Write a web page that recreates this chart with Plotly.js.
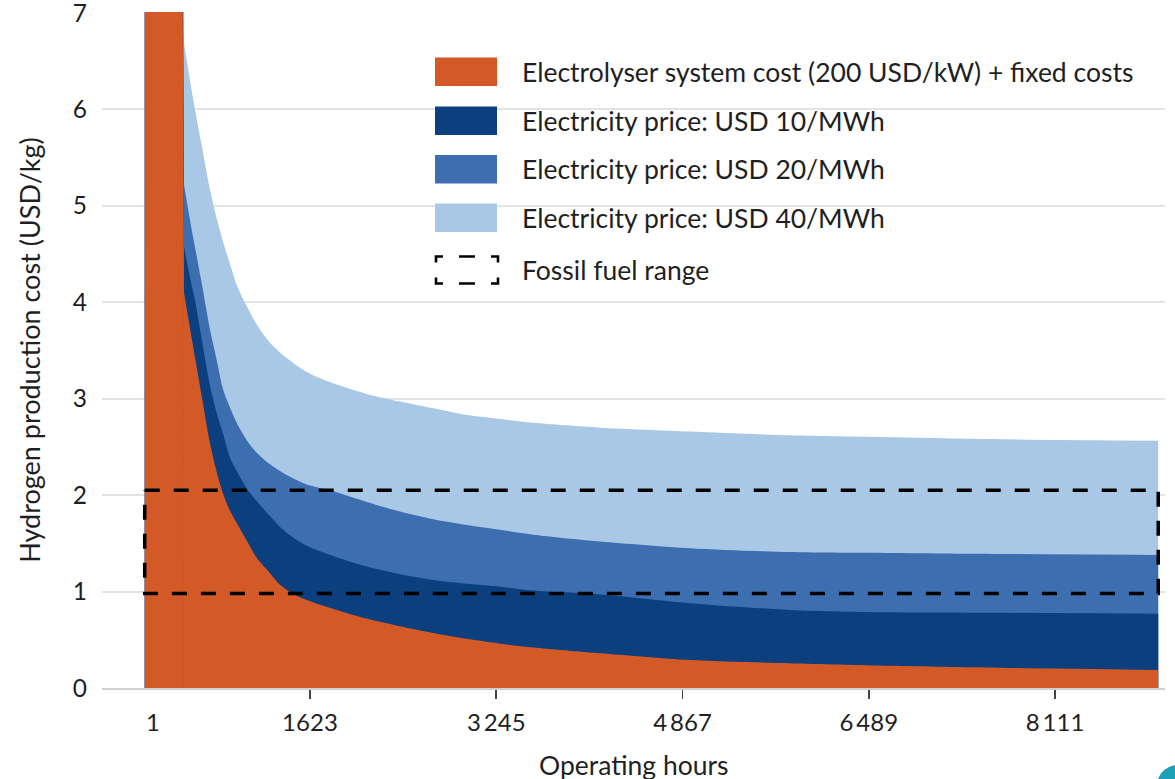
<!DOCTYPE html>
<html>
<head>
<meta charset="utf-8">
<script src="https://cdn.plot.ly/plotly-3.0.1.min.js"></script>
<style>
html,body{margin:0;padding:0;background:#ffffff;}
#chart{width:1175px;height:779px;}
</style>
</head>
<body>
<div id="chart"></div>
<script>
// ---- data ----
// x positions of the plotted points, in operating-hour units of the axis
const hours = [184, 526, 578, 622, 680, 752, 811, 868, 926, 985, 1072, 1159, 1275, 1362, 1449, 1536, 1623, 1826, 2117, 2407, 2697, 2988, 3278, 3568, 4149, 4932, 5803, 6674, 7632, 9010];
// electrolyser system cost (200 USD/kW) + fixed costs, USD/kg (first point is off the scale)
const electrolyserCost = [100, 4.10, 3.73, 3.43, 3.03, 2.54, 2.24, 2.01, 1.84, 1.71, 1.53, 1.35, 1.19, 1.07, 0.995, 0.94, 0.90, 0.82, 0.72, 0.64, 0.57, 0.51, 0.46, 0.42, 0.36, 0.29, 0.256, 0.23, 0.21, 0.187];
// total production cost with electricity at USD 10/MWh
const total10 = [100.6, 4.58, 4.26, 4.02, 3.62, 3.14, 2.85, 2.63, 2.39, 2.25, 2.07, 1.94, 1.78, 1.67, 1.585, 1.515, 1.46, 1.37, 1.26, 1.18, 1.12, 1.08, 1.05, 1.01, 0.97, 0.88, 0.81, 0.785, 0.78, 0.77];
// total production cost with electricity at USD 20/MWh
const total20 = [101.2, 5.22, 4.85, 4.57, 4.20, 3.72, 3.40, 3.09, 2.91, 2.75, 2.57, 2.44, 2.32, 2.25, 2.19, 2.14, 2.10, 2.04, 1.93, 1.83, 1.75, 1.69, 1.64, 1.59, 1.52, 1.45, 1.41, 1.40, 1.39, 1.38];
// total production cost with electricity at USD 40/MWh
const total40 = [102.4, 6.69, 6.30, 6.00, 5.63, 5.17, 4.87, 4.62, 4.40, 4.18, 3.96, 3.77, 3.58, 3.48, 3.395, 3.32, 3.26, 3.16, 3.05, 2.97, 2.90, 2.83, 2.79, 2.75, 2.70, 2.66, 2.62, 2.60, 2.58, 2.565];
// fossil fuel range, USD/kg
const fossilRange = [0.98, 2.05];

const seriesNames = [
  "Electrolyser system cost (200 USD/kW) + fixed costs",
  "Electricity price: USD 10/MWh",
  "Electricity price: USD 20/MWh",
  "Electricity price: USD 40/MWh",
  "Fossil fuel range"
];
const seriesColors = ["#D35A26", "#0B3F7E", "#3C6EB0", "#A8C8E6", "#000000"];

const xTickVals = [256, 1623, 3245, 4867, 6489, 8111];
const xTickText = ["1", "1623", "3\u2009245", "4\u2009867", "6\u2009489", "8\u2009111"];
const xTickMarks = [1623, 3245, 4867, 6489, 8111];
const yTickVals = [0, 1, 2, 3, 4, 5, 6, 7];

// ---- layout helpers (page pixels -> paper fractions) ----
const PL = 102, PR = 1165, PT = 12, PB = 688;
const fx = v => (v - PL) / (PR - PL);
const fy = v => (PB - v) / (PB - PT);
const FONT = "Lato, 'Open Sans', sans-serif";
const TXT = "#1f1f1f";

// each area: the off-scale first step is drawn straight, the rest smoothed
function area(y, idx) {
  const common = {
    type: "scatter", mode: "lines", fill: "tozeroy", fillcolor: seriesColors[idx],
    name: seriesNames[idx], hoverinfo: "skip", showlegend: false
  };
  return [
    Object.assign({x: hours.slice(0, 2), y: y.slice(0, 2),
      line: {width: 0, color: seriesColors[idx], shape: "linear"}}, common),
    Object.assign({x: hours.slice(1), y: y.slice(1),
      line: {width: 0, color: seriesColors[idx], shape: "spline", smoothing: 0.8}}, common)
  ];
}
const n = hours.length;
const traces = [].concat(
  area(total40, 3),
  area(total20, 2),
  area(total10, 1),
  area(electrolyserCost, 0),
  [{
    x: [hours[0], hours[n-1], hours[n-1], hours[0], hours[0]],
    y: [fossilRange[1], fossilRange[1], fossilRange[0], fossilRange[0], fossilRange[1]],
    type: "scatter", mode: "lines", name: seriesNames[4],
    line: {color: "#000", width: 3.5, dash: "15px,14px"},
    hoverinfo: "skip", showlegend: false
  }]
);

// ---- manual legend ----
const shapes = [];
const annotations = [];
const rowY = [71.7, 120.7, 169.3, 217.8, 270];
const legendOrder = [0, 1, 2, 3];
legendOrder.forEach((si, r) => {
  shapes.push({type: "rect", xref: "paper", yref: "paper",
    x0: fx(435), x1: fx(497), y0: fy(rowY[r] - 14.3), y1: fy(rowY[r] + 14.3),
    fillcolor: seriesColors[si], line: {width: 0}});
});
for (let r = 0; r < 5; r++) {
  annotations.push({xref: "paper", yref: "paper", x: fx(520), y: fy(rowY[r]),
    xanchor: "left", yanchor: "middle", showarrow: false,
    text: seriesNames[r], font: {family: FONT, size: 26.5, color: TXT}});
}
// dashed rectangle icon
(function(){
  const x0 = 436, x1 = 498, y0 = 256.5, y1 = 283.5, ca = 7, cv = 6;
  const P = (x, y) => fx(x).toFixed(5) + "," + fy(y).toFixed(5);
  const d = "M" + P(x0, y0 + cv) + " L" + P(x0, y0) + " L" + P(x0 + ca, y0) +
            " M" + P(459, y0) + " L" + P(475, y0) +
            " M" + P(x1 - ca, y0) + " L" + P(x1, y0) + " L" + P(x1, y0 + cv) +
            " M" + P(x1, y1 - cv) + " L" + P(x1, y1) + " L" + P(x1 - ca, y1) +
            " M" + P(475, y1) + " L" + P(459, y1) +
            " M" + P(x0 + ca, y1) + " L" + P(x0, y1) + " L" + P(x0, y1 - cv);
  shapes.push({type: "path", xref: "paper", yref: "paper", path: d,
    line: {color: "#000", width: 2.6}});
})();

// x axis title (partly cut by the bottom edge as in the reference)
annotations.push({xref: "paper", yref: "paper", x: 0.5, y: fy(747), xanchor: "center", yanchor: "top",
  showarrow: false, text: "Operating hours", font: {family: FONT, size: 26.5, color: TXT}});

// small teal corner mark
shapes.push({type: "path", xref: "paper", yref: "paper",
  path: "M" + fx(1158).toFixed(5) + "," + fy(779).toFixed(5) +
        " Q" + fx(1162).toFixed(5) + "," + fy(768).toFixed(5) + " " + fx(1175).toFixed(5) + "," + fy(765).toFixed(5) +
        " L" + fx(1175).toFixed(5) + "," + fy(779).toFixed(5) + " Z",
  fillcolor: "#1BA1B5", line: {width: 0}});

const layout = {
  width: 1175, height: 779,
  margin: {l: PL, r: 1175 - PR, t: PT, b: 779 - PB, pad: 0},
  paper_bgcolor: "#ffffff", plot_bgcolor: "#ffffff",
  showlegend: false,
  font: {family: FONT, color: TXT},
  xaxis: {
    range: [-188, 9069], fixedrange: true,
    showgrid: false, zeroline: false,
    showline: true, linecolor: "#cfcfcf", linewidth: 2, layer: "below traces",
    tickmode: "array", tickvals: xTickVals, ticktext: xTickText,
    ticks: "", ticklabelstandoff: 12,
    tickfont: {family: FONT, size: 24, color: TXT},
    minor: {tickmode: "array", tickvals: xTickMarks, ticks: "outside", ticklen: 9, tickwidth: 1.6, tickcolor: "#444", showgrid: false}
  },
  yaxis: {
    range: [0, 7.01], fixedrange: true,
    tickmode: "array", tickvals: yTickVals, ticklabeloverflow: "allow",
    showgrid: true, gridcolor: "#e3e3e3", gridwidth: 2,
    zeroline: false, showline: false, ticks: "", ticklabelstandoff: 14,
    tickfont: {family: FONT, size: 24.5, color: TXT},
    title: {text: "Hydrogen production cost (USD/kg)", font: {family: FONT, size: 27, color: TXT}, standoff: 24}
  },
  shapes: shapes,
  annotations: annotations
};

Plotly.newPlot("chart", traces, layout, {displayModeBar: false, staticPlot: true});
</script>
</body>
</html>
